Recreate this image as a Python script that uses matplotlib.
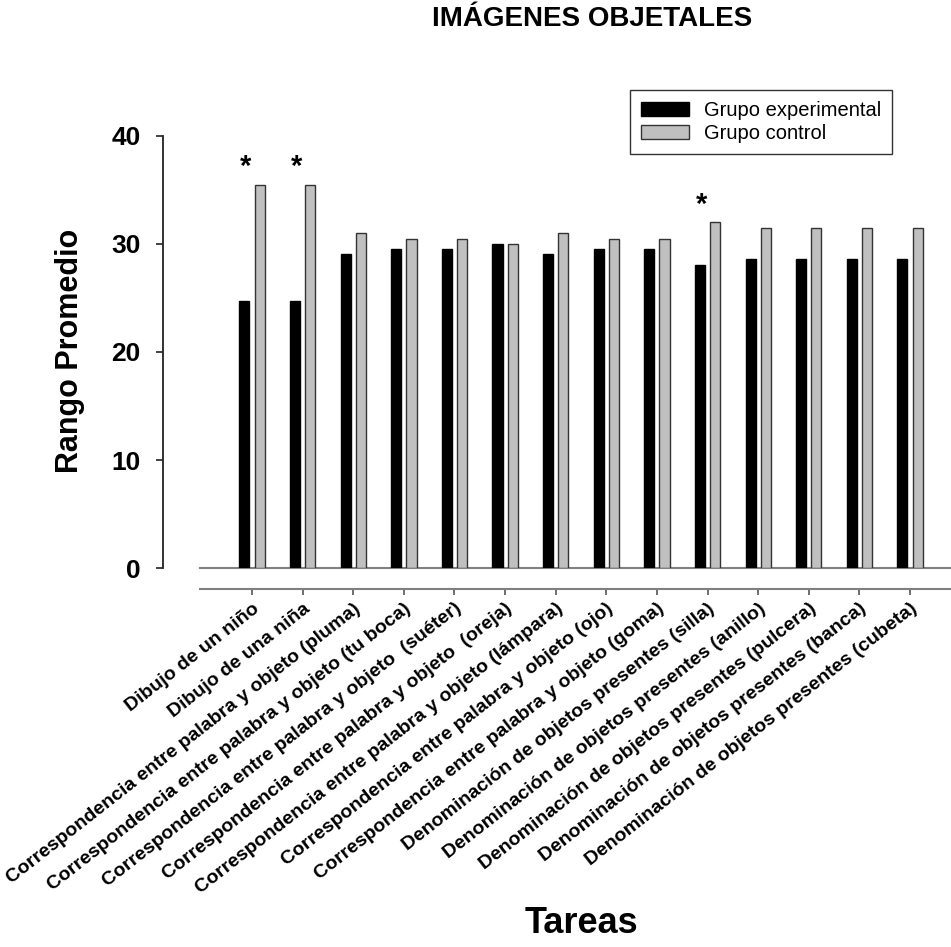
import numpy as np
import matplotlib
matplotlib.use('Agg')
from matplotlib import pyplot as plt
from matplotlib.patches import Patch

#Data
tareas = ['Dibujo de un niño',
          'Dibujo de una niña',
          'Correspondencia entre palabra y objeto (pluma)',
          'Correspondencia entre palabra y objeto (tu boca)',
          'Correspondencia entre palabra y objeto  (suéter)',
          'Correspondencia entre palabra y objeto  (oreja)',
          'Correspondencia entre palabra y objeto (lámpara)',
          'Correspondencia entre palabra y objeto (ojo)',
          'Correspondencia entre palabra y objeto (goma)',
          'Denominación de objetos presentes (silla)',
          'Denominación de objetos presentes (anillo)',
          'Denominación de objetos presentes (pulcera)',
          'Denominación de objetos presentes (banca)',
          'Denominación de objetos presentes (cubeta)']

grupo_experimental = [24.75, 24.75, 29.04, 29.57, 29.57, 30.0, 29.04,
                      29.57, 29.57, 28.09, 28.58, 28.58, 28.58, 28.58]
grupo_control      = [35.46, 35.46, 31.0, 30.5, 30.5, 30.0, 31.0,
                      30.5, 30.5, 32.0, 31.48, 31.48, 31.48, 31.48]

significativo = [True, True, False, False, False, False, False,
                 False, False, True, False, False, False, False]

y_ticks = [0, 10, 20, 30, 40]

plt.rcParams['font.family'] = ['Liberation Sans', 'DejaVu Sans']

fig = plt.figure(figsize=(9.51, 9.47), dpi=100)
ax = fig.add_axes([0.1714, 0.4002, 0.8286, 0.4562])

x = np.arange(len(tareas))
bar_width = 0.2

ax.bar(x - 0.15, grupo_experimental, width=bar_width, color='black',
       edgecolor='black', linewidth=1, label='Grupo experimental', zorder=3)
ax.bar(x + 0.15, grupo_control, width=bar_width, color='#c0c0c0',
       edgecolor='#333333', linewidth=1, label='Grupo control', zorder=3)

#Asterisks over the significant pairs
for i, v in enumerate(grupo_control):
    if significativo[i]:
        ax.text(x[i] - 0.12, v + 0.9, '*', ha='center', va='baseline',
                fontsize=21, fontweight='bold')

ax.set_xlim(-1.759, 13.81)
ax.set_ylim(0, 40)

#Grey baseline at zero, starts a bit right of the y axis
ax.axhline(0, xmin=0.047, xmax=1, color='#808080', linewidth=1.5,
           clip_on=False, zorder=2)

#Spines
ax.spines['top'].set_visible(False)
ax.spines['right'].set_visible(False)
ax.spines['left'].set_bounds(0, 40)
ax.spines['left'].set_linewidth(1.3)
ax.spines['left'].set_color('#222222')
ax.spines['bottom'].set_position(('outward', 15))
ax.spines['bottom'].set_bounds(-1.03, 13.81)
ax.spines['bottom'].set_color('#808080')
ax.spines['bottom'].set_linewidth(1.5)

ax.set_yticks(y_ticks)
ax.set_yticklabels([str(t) for t in y_ticks], fontsize=19, fontweight='bold')
ax.tick_params(axis='y', direction='out', length=5, width=1.2,
               color='#222222', pad=11)

ax.set_xticks(x)
ax.set_xticklabels(tareas, rotation=38, ha='right', va='top',
                   rotation_mode='anchor', fontsize=14, fontweight='bold')
ax.tick_params(axis='x', direction='out', length=4, width=1.2,
               color='#555555', pad=4)

#Legend
handles = [Patch(facecolor='black', edgecolor='black', label='Grupo experimental'),
           Patch(facecolor='#c0c0c0', edgecolor='#333333', label='Grupo control')]
leg = fig.legend(handles=handles, loc='upper left',
                 bbox_to_anchor=(630 / 951, 1 - 90 / 947),
                 fontsize=14.5, frameon=True, fancybox=False,
                 handlelength=2.4, handleheight=0.65, handletextpad=0.7,
                 borderpad=0.55, labelspacing=0.2, borderaxespad=0)
leg.get_frame().set_edgecolor('black')
leg.get_frame().set_linewidth(1)

#Titles
fig.text(592 / 951, 1 - 19 / 947, 'IMÁGENES OBJETALES', ha='center',
         va='center', fontsize=20, fontweight='bold')
fig.text(581 / 951, 1 - 923 / 947, 'Tareas', ha='center', va='center',
         fontsize=26, fontweight='bold')
fig.text(70 / 951, 1 - 351 / 947, 'Rango Promedio', ha='center',
         va='center', rotation=90, fontsize=22, fontweight='bold')

fig.savefig('out.png', dpi=100)
